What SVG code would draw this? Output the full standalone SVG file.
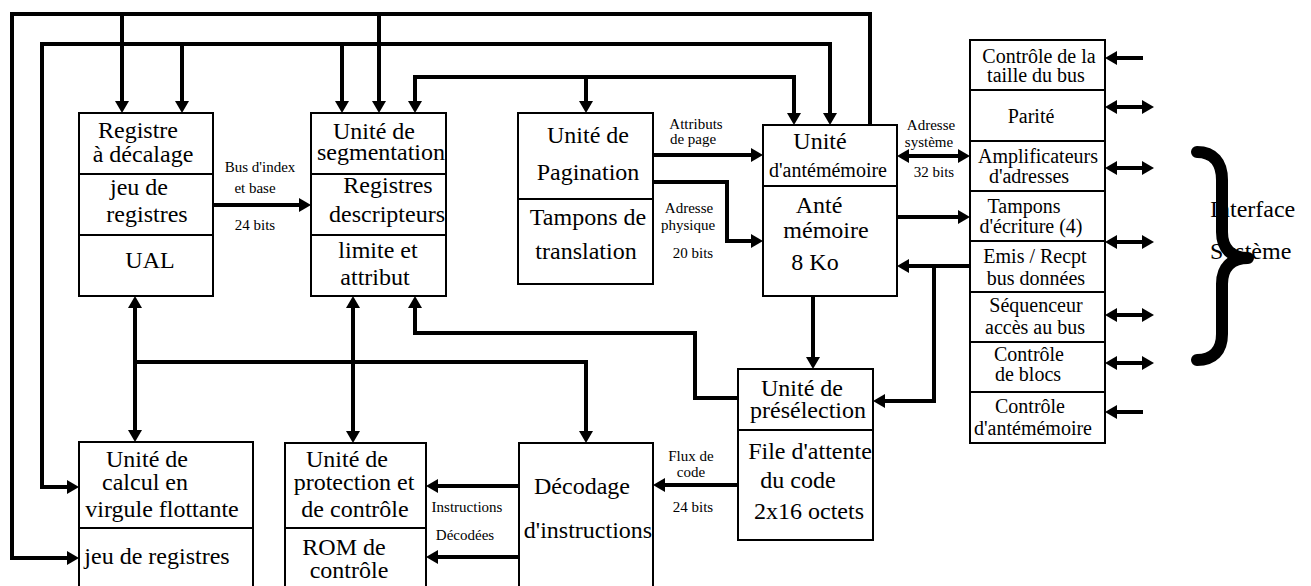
<svg xmlns="http://www.w3.org/2000/svg" width="1311" height="586" viewBox="0 0 1311 586">
  <style>
    .box { fill: #fff; stroke: #000; stroke-width: 2; }
    .div { stroke: #000; stroke-width: 2; }
    .wire { fill: none; stroke: #000; stroke-width: 4; stroke-linejoin: miter; }
    .t { font-family: "Liberation Serif", "Times New Roman", serif; font-size: 24px; fill: #000; text-anchor: middle; }
    .m { font-family: "Liberation Serif", "Times New Roman", serif; font-size: 20px; fill: #000; text-anchor: middle; }
    .s { font-family: "Liberation Serif", "Times New Roman", serif; font-size: 15px; fill: #000; text-anchor: middle; }
    .brace { fill: none; stroke: #000; stroke-width: 12; stroke-linecap: round; stroke-linejoin: round; }
  </style>
  <defs>
    <marker id="ah" markerUnits="userSpaceOnUse" markerWidth="13" markerHeight="15" refX="0" refY="7" orient="auto-start-reverse" overflow="visible">
      <path d="M0,0 L12,7 L0,14 z" fill="#000"/>
    </marker>
  </defs>

  <rect width="1311" height="586" fill="#fff"/>

  <!-- connectors -->
  <g id="connectors">
    <!-- outer bus from the cache unit -->
    <path class="wire" d="M870,125 V14 H12 V558 H67" marker-end="url(#ah)"/>
    <path class="wire" d="M122,14 V101" marker-end="url(#ah)"/>
    <path class="wire" d="M379,14 V101" marker-end="url(#ah)"/>
    <!-- second bus -->
    <path class="wire" d="M830,113 V44 H42 V487 H67" marker-start="url(#ah)" marker-end="url(#ah)"/>
    <path class="wire" d="M182,44 V101" marker-end="url(#ah)"/>
    <path class="wire" d="M342,44 V101" marker-end="url(#ah)"/>
    <!-- third bus -->
    <path class="wire" d="M415,101 V77 H794 V113" marker-start="url(#ah)" marker-end="url(#ah)"/>
    <path class="wire" d="M586,77 V101" marker-end="url(#ah)"/>

    <!-- index/base bus -->
    <path class="wire" d="M213,205 H299" marker-end="url(#ah)"/>
    <!-- paging to cache -->
    <path class="wire" d="M653,155 H751" marker-end="url(#ah)"/>
    <path class="wire" d="M653,182 H727 V241 H751" marker-end="url(#ah)"/>
    <!-- cache to system interface -->
    <path class="wire" d="M909,156 H958" marker-start="url(#ah)" marker-end="url(#ah)"/>
    <path class="wire" d="M897,217 H958" marker-end="url(#ah)"/>
    <path class="wire" d="M970,266 H909" marker-end="url(#ah)"/>
    <path class="wire" d="M934,266 V401 H885" marker-end="url(#ah)"/>
    <!-- cache to prefetch -->
    <path class="wire" d="M813,296 V357" marker-end="url(#ah)"/>
    <!-- prefetch to segmentation -->
    <path class="wire" d="M738,398 H695 V333 H415 V308" marker-end="url(#ah)"/>
    <!-- internal bus -->
    <path class="wire" d="M135,362 H586 V431" marker-end="url(#ah)"/>
    <path class="wire" d="M135,308 V430" marker-start="url(#ah)" marker-end="url(#ah)"/>
    <path class="wire" d="M353,308 V431" marker-start="url(#ah)" marker-end="url(#ah)"/>
    <!-- code stream -->
    <path class="wire" d="M738,485 H665" marker-end="url(#ah)"/>
    <!-- decoded instructions -->
    <path class="wire" d="M519,486 H438" marker-end="url(#ah)"/>
    <path class="wire" d="M519,557 H438" marker-end="url(#ah)"/>
    <!-- external signals -->
    <path class="wire" d="M1143,58 H1117" marker-end="url(#ah)"/>
    <path class="wire" d="M1117,107 H1142" marker-start="url(#ah)" marker-end="url(#ah)"/>
    <path class="wire" d="M1117,168 H1142" marker-start="url(#ah)" marker-end="url(#ah)"/>
    <path class="wire" d="M1117,242 H1142" marker-start="url(#ah)" marker-end="url(#ah)"/>
    <path class="wire" d="M1117,315 H1142" marker-start="url(#ah)" marker-end="url(#ah)"/>
    <path class="wire" d="M1117,363 H1142" marker-start="url(#ah)" marker-end="url(#ah)"/>
    <path class="wire" d="M1143,412 H1117" marker-end="url(#ah)"/>
  </g>

  <!-- connector labels -->
  <g id="labels">
    <text class="s" x="260" y="172">Bus d'index</text>
    <text class="s" x="255" y="193">et base</text>
    <text class="s" x="255" y="230">24 bits</text>
    <text class="s" x="696" y="129">Attributs</text>
    <text class="s" x="693" y="144">de page</text>
    <text class="s" x="689" y="213">Adresse</text>
    <text class="s" x="688" y="230">physique</text>
    <text class="s" x="693" y="258">20 bits</text>
    <text class="s" x="931" y="130">Adresse</text>
    <text class="s" x="929" y="147">système</text>
    <text class="s" x="934" y="177">32 bits</text>
    <text class="s" x="691" y="461">Flux de</text>
    <text class="s" x="691" y="477">code</text>
    <text class="s" x="693" y="512">24 bits</text>
    <text class="s" x="467" y="512">Instructions</text>
    <text class="s" x="465" y="540">Décodées</text>
  </g>

  <g id="registre">
    <rect class="box" x="79" y="113" width="134" height="183"/>
    <line class="div" x1="79" y1="174" x2="213" y2="174"/>
    <line class="div" x1="79" y1="235" x2="213" y2="235"/>
    <text class="t" x="138" y="138">Registre</text>
    <text class="t" x="143" y="162">à décalage</text>
    <text class="t" x="139" y="195">jeu de</text>
    <text class="t" x="147" y="222">registres</text>
    <text class="t" x="150" y="268">UAL</text>
  </g>

  <g id="segmentation">
    <rect class="box" x="311" y="113" width="135" height="183"/>
    <line class="div" x1="311" y1="174" x2="446" y2="174"/>
    <line class="div" x1="311" y1="235" x2="446" y2="235"/>
    <text class="t" x="374" y="139">Unité de</text>
    <text class="t" x="381" y="160">segmentation</text>
    <text class="t" x="388" y="193">Registres</text>
    <text class="t" x="387" y="222">descripteurs</text>
    <text class="t" x="378" y="258">limite et</text>
    <text class="t" x="375" y="285">attribut</text>
  </g>

  <g id="pagination">
    <rect class="box" x="518" y="113" width="135" height="171"/>
    <line class="div" x1="518" y1="199" x2="653" y2="199"/>
    <text class="t" x="588" y="143">Unité de</text>
    <text class="t" x="588" y="180">Pagination</text>
    <text class="t" x="588" y="225">Tampons de</text>
    <text class="t" x="586" y="259">translation</text>
  </g>

  <g id="antememoire">
    <rect class="box" x="763" y="125" width="134" height="171"/>
    <line class="div" x1="763" y1="186" x2="897" y2="186"/>
    <text class="t" x="820" y="149">Unité</text>
    <text class="m" x="828" y="177">d'antémémoire</text>
    <text class="t" x="819" y="213">Anté</text>
    <text class="t" x="826" y="238">mémoire</text>
    <text class="t" x="815" y="270">8 Ko</text>
  </g>

  <g id="preselection">
    <rect class="box" x="738" y="369" width="135" height="171"/>
    <line class="div" x1="738" y1="430" x2="873" y2="430"/>
    <text class="t" x="802" y="396">Unité de</text>
    <text class="t" x="808" y="418">présélection</text>
    <text class="t" x="810" y="459">File d'attente</text>
    <text class="t" x="798" y="488">du code</text>
    <text class="t" x="809" y="519">2x16 octets</text>
  </g>

  <g id="virgule-flottante">
    <rect class="box" x="79" y="442" width="174" height="150"/>
    <line class="div" x1="79" y1="528" x2="253" y2="528"/>
    <text class="t" x="147" y="467">Unité de</text>
    <text class="t" x="145" y="490">calcul en</text>
    <text class="t" x="162" y="517">virgule flottante</text>
    <text class="t" x="157" y="564">jeu de registres</text>
  </g>

  <g id="protection">
    <rect class="box" x="285" y="443" width="141" height="150"/>
    <line class="div" x1="285" y1="528" x2="426" y2="528"/>
    <text class="t" x="347" y="467">Unité de</text>
    <text class="t" x="354" y="490">protection et</text>
    <text class="t" x="355" y="517">de contrôle</text>
    <text class="t" x="344" y="555">ROM de</text>
    <text class="t" x="349" y="578">contrôle</text>
  </g>

  <g id="decodage">
    <rect class="box" x="519" y="443" width="134" height="150"/>
    <text class="t" x="582" y="494">Décodage</text>
    <text class="t" x="588" y="538">d'instructions</text>
  </g>

  <g id="interface-bus">
    <rect class="box" x="970" y="40" width="135" height="403"/>
    <line class="div" x1="970" y1="90" x2="1105" y2="90"/>
    <line class="div" x1="970" y1="141" x2="1105" y2="141"/>
    <line class="div" x1="970" y1="191" x2="1105" y2="191"/>
    <line class="div" x1="970" y1="241" x2="1105" y2="241"/>
    <line class="div" x1="970" y1="292" x2="1105" y2="292"/>
    <line class="div" x1="970" y1="342" x2="1105" y2="342"/>
    <line class="div" x1="970" y1="392" x2="1105" y2="392"/>
    <text class="m" x="1039" y="63">Contrôle de la</text>
    <text class="m" x="1036" y="82">taille du bus</text>
    <text class="m" x="1031" y="123">Parité</text>
    <text class="m" x="1038" y="163">Amplificateurs</text>
    <text class="m" x="1029" y="183">d'adresses</text>
    <text class="m" x="1024" y="213">Tampons</text>
    <text class="m" x="1031" y="233">d'écriture (4)</text>
    <text class="m" x="1035" y="263">Emis / Recpt</text>
    <text class="m" x="1036" y="285">bus données</text>
    <text class="m" x="1036" y="312">Séquenceur</text>
    <text class="m" x="1035" y="334">accès au bus</text>
    <text class="m" x="1029" y="361">Contrôle</text>
    <text class="m" x="1028" y="381">de blocs</text>
    <text class="m" x="1030" y="413">Contrôle</text>
    <text class="m" x="1033" y="435">d'antémémoire</text>
  </g>

  <g id="interface-systeme">
    <text class="t" x="1210" y="217" text-anchor="start" style="text-anchor:start">Interface</text>
    <text class="t" x="1210" y="259" style="text-anchor:start">Système</text>
    <path class="brace" d="M1197,152 C1213,152 1222,162 1222,180 V232 C1222,249 1232,258 1248,258 C1232,258 1222,267 1222,284 V334 C1222,351 1213,360 1197,360"/>
  </g>
</svg>
